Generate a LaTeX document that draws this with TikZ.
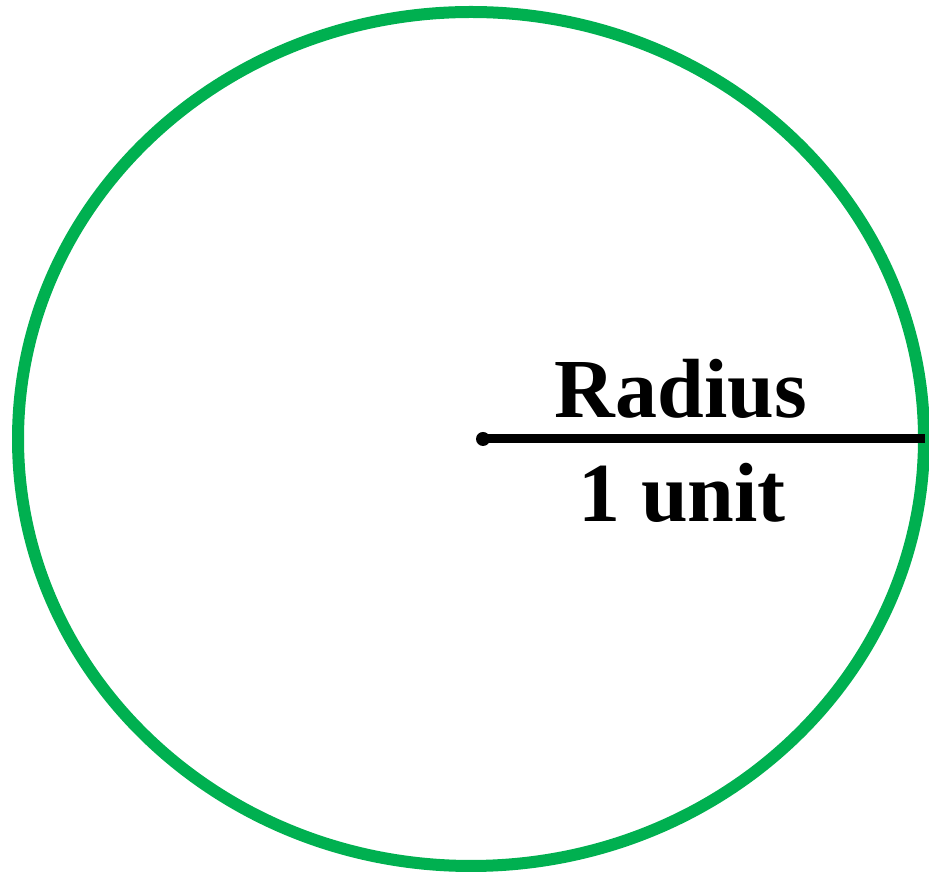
\documentclass[tikz,border=0pt]{standalone}
\usepackage{fontspec}
\setmainfont{Liberation Serif}
\definecolor{circgreen}{HTML}{00B050}
\begin{document}
\begin{tikzpicture}[x=1pt,y=1pt,
  rim/.style={draw=circgreen,line width=12pt},
  radline/.style={draw=black,line width=9pt},
  lbl/.style={anchor=base,inner sep=0pt,font=\fontsize{84}{90}\selectfont\bfseries}]
\useasboundingbox (0,0) rectangle (929,875);
\draw[rim] (471,436) ellipse [x radius=453, y radius=427];
\coordinate (c) at (483,436);
\coordinate (e) at (925,436);
\fill (c) circle (7pt);
\draw[radline] (c) -- (e);
\node[lbl] (r) at (681,457) {Radius};
\node[lbl] (u) at (682,353) {1 unit};
\end{tikzpicture}
\end{document}
